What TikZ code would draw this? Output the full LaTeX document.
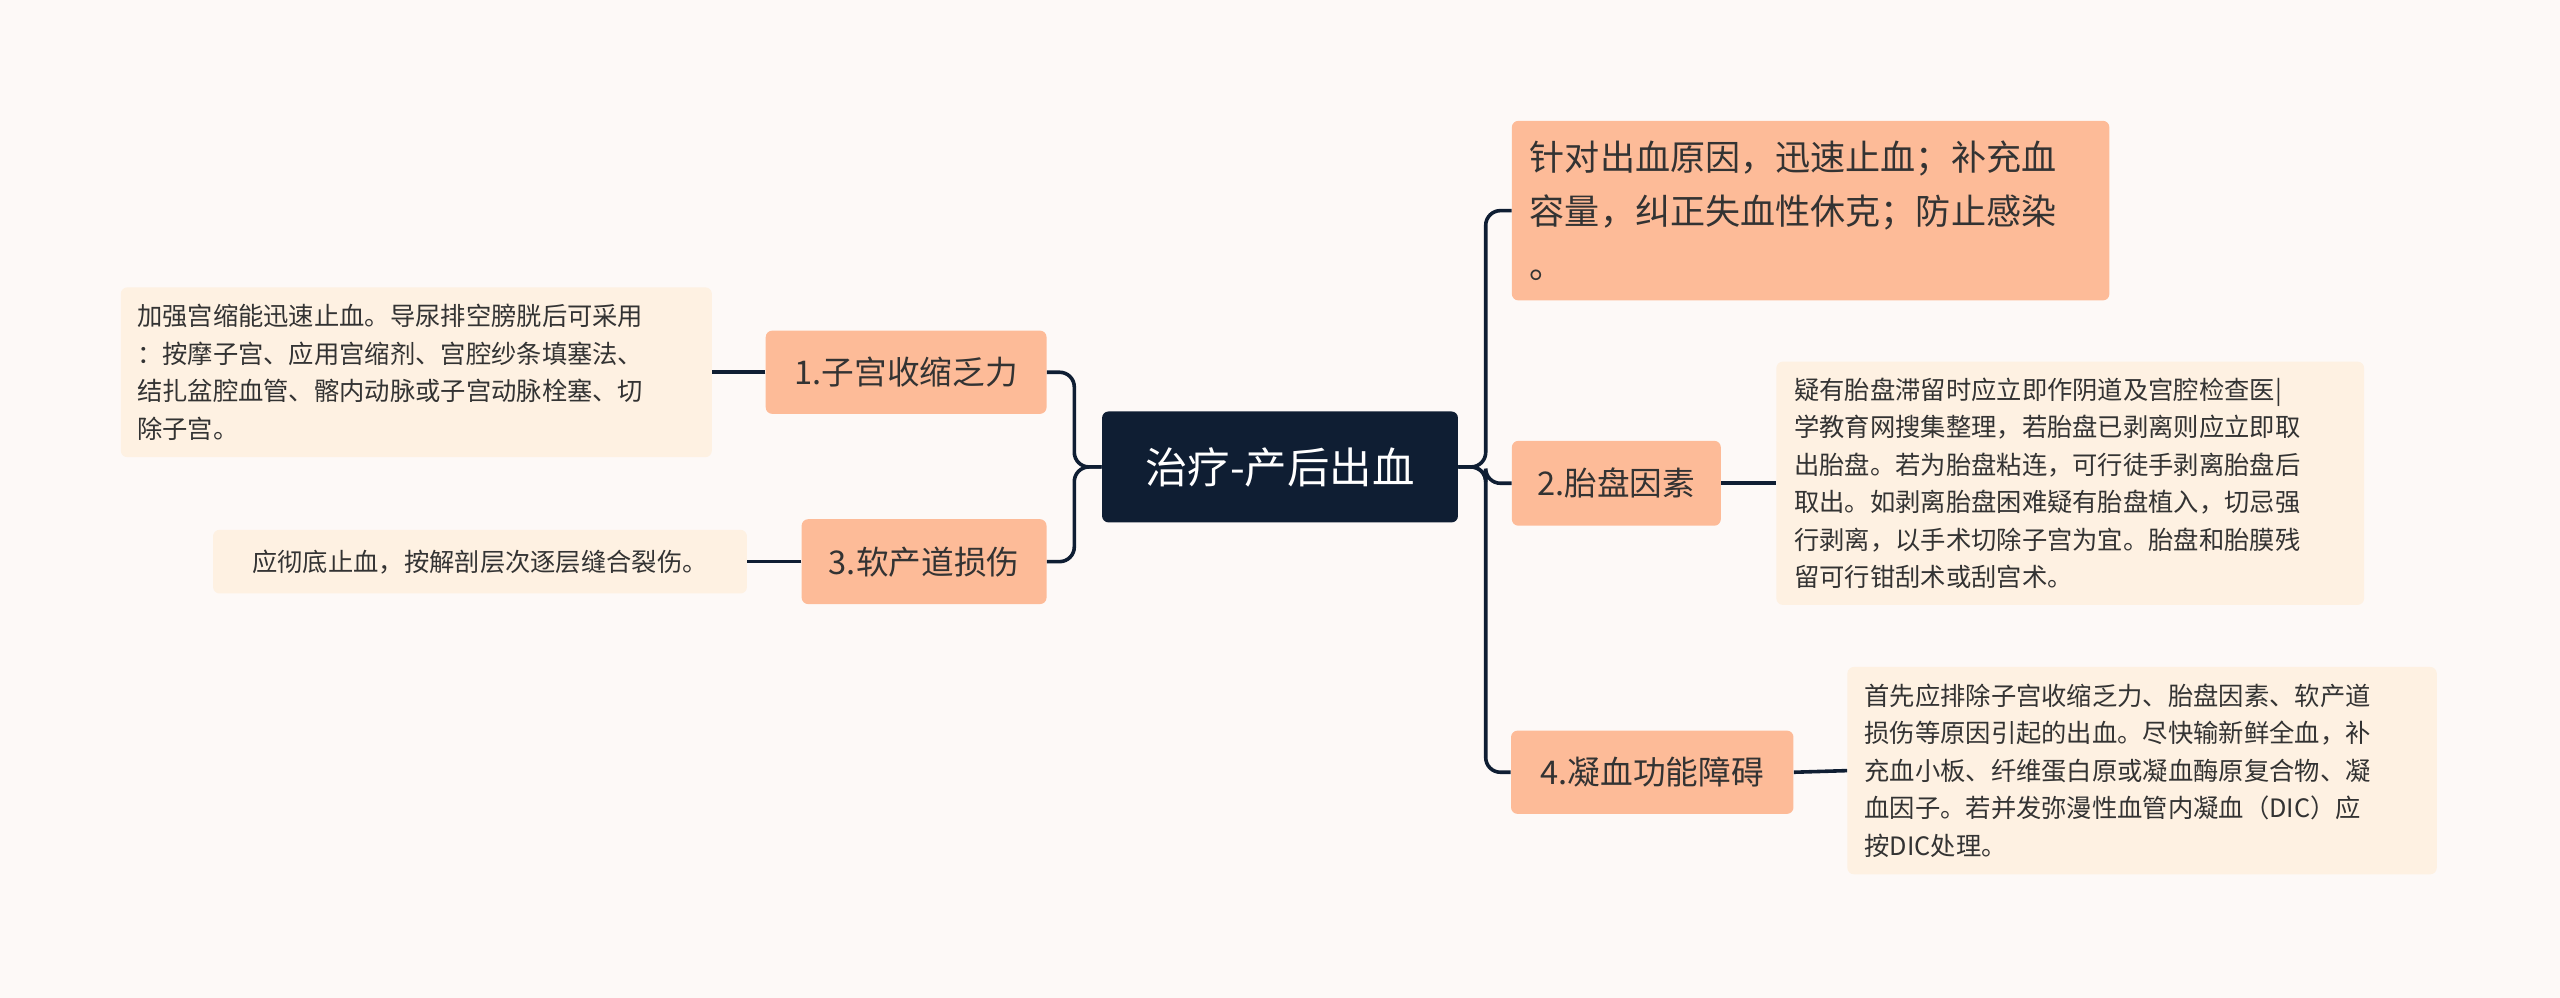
\documentclass[tikz,border=0pt]{standalone}
\usepackage{fontspec}
\setmainfont{Noto Sans CJK SC}
\begin{document}
\begin{tikzpicture}[x=1pt,y=-1pt,
  main/.style={fill=orange1,rounded corners=4pt,text=txt,font=\fontsize{20}{26}\selectfont,inner sep=0pt},
  det/.style={fill=cream,rounded corners=4pt,text=txt,font=\fontsize{15.5}{23}\selectfont,align=left,inner sep=0pt},
  con/.style={draw=navy,line width=2.2pt,rounded corners=9pt}]
\definecolor{bg}{HTML}{FDF9F7}
\definecolor{navy}{HTML}{0F1E33}
\definecolor{orange1}{HTML}{FDBB98}
\definecolor{cream}{HTML}{FEF1E2}
\definecolor{txt}{HTML}{333333}
\fill[bg] (0,0) rectangle (1568,611);
\useasboundingbox (0,0) rectangle (1568,611);
% center
\node[fill=navy,rounded corners=4pt,text=white,font=\fontsize{26}{30}\selectfont,minimum width=218pt,minimum height=68pt,inner sep=0pt] (c) at (784,286) {治疗-产后出血};
% right
\node[main,minimum width=366pt,minimum height=110pt,align=left,font=\fontsize{21.5}{33}\selectfont] (t) at (1109,129) {\parbox{344pt}{针对出血原因，迅速止血；补充血\\容量，纠正失血性休克；防止感染\\。}};
\node[main,minimum width=128pt,minimum height=52pt] (p) at (990,296) {2.胎盘因素};
\node[det,minimum width=360pt,minimum height=149pt] (pd) at (1268,296) {\parbox{338pt}{疑有胎盘滞留时应立即作阴道及宫腔检查医|\\学教育网搜集整理，若胎盘已剥离则应立即取\\出胎盘。若为胎盘粘连，可行徒手剥离胎盘后\\取出。如剥离胎盘困难疑有胎盘植入，切忌强\\行剥离，以手术切除子宫为宜。胎盘和胎膜残\\留可行钳刮术或刮宫术。}};
\node[main,minimum width=173pt,minimum height=51pt] (n) at (1012,473) {4.凝血功能障碍};
\node[det,minimum width=361pt,minimum height=127pt] (nd) at (1312,472) {\parbox{340pt}{首先应排除子宫收缩乏力、胎盘因素、软产道\\损伤等原因引起的出血。尽快输新鲜全血，补\\充血小板、纤维蛋白原或凝血酶原复合物、凝\\血因子。若并发弥漫性血管内凝血（DIC）应\\按DIC处理。}};
% left
\node[main,minimum width=172pt,minimum height=51pt] (a) at (555,228) {1.子宫收缩乏力};
\node[det,minimum width=362pt,minimum height=104pt] (ad) at (255,228) {\parbox{342pt}{加强宫缩能迅速止血。导尿排空膀胱后可采用\\：按摩子宫、应用宫缩剂、宫腔纱条填塞法、\\结扎盆腔血管、髂内动脉或子宫动脉栓塞、切\\除子宫。}};
\node[main,minimum width=150pt,minimum height=52pt] (b) at (566,344) {3.软产道损伤};
\node[det,minimum width=327pt,minimum height=39pt] (bd) at (294,344) {应彻底止血，按解剖层次逐层缝合裂伤。};
% connectors
\coordinate (rj) at (910,286);
\coordinate (lj) at (658,286);
\draw[con] (c.east) -- (rj) |- (t.west);
\draw[con] (c.east) -- (rj) |- (p.west);
\draw[con] (c.east) -- (rj) |- (n.west);
\draw[con] (c.west) -- (lj) |- (a.east);
\draw[con] (c.west) -- (lj) |- (b.east);
\draw[con] (p.east) -- (pd.west);
\draw[con] (n.east) -- (nd.west);
\draw[con] (a.west) -- (ad.east);
\draw[con] (b.west) -- (bd.east);
\end{tikzpicture}
\end{document}
